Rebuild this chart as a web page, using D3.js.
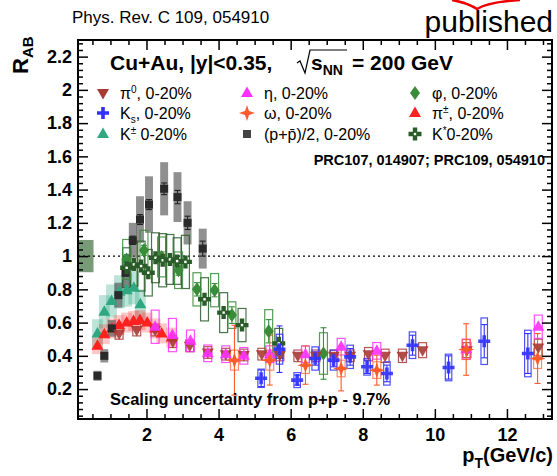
<!DOCTYPE html>
<html lang='en'>
<head>
<meta charset='UTF-8'/>
<title>RAB Cu+Au</title>
<script src='https://cdn.jsdelivr.net/npm/d3@7'></script>
<style>
  body {margin: 0; background: #fff;}
  svg {display: block; font-family: 'Liberation Sans', Arial, Helvetica, sans-serif;}
</style>
</head>
<body>
<div class='graph'></div>
<script>
// ---- data ----
// (p+pbar)/2
const protonPt   = [0.64, 0.83, 1.04, 1.22, 1.42, 1.62, 1.82, 2.07, 2.49, 2.86, 3.14, 3.56];
const protonR    = [0.28, 0.40, 0.565, 0.765, 0.90, 1.095, 1.22, 1.31, 1.405, 1.355, 1.20, 1.045];
const protonStat = [0.01, 0.015, 0.015, 0.02, 0.02, 0.025, 0.03, 0.03, 0.035, 0.04, 0.04, 0.045];
const protonSys  = [0.03, 0.04, 0.05, 0.075, 0.09, 0.105, 0.14, 0.17, 0.16, 0.15, 0.13, 0.12];
// K+-
const kchPt   = [0.64, 0.83, 1.03, 1.25, 1.45, 1.65, 1.83];
const kchR    = [0.535, 0.665, 0.73, 0.785, 0.795, 0.81, 0.71];
const kchSys  = [0.085, 0.1, 0.1, 0.1, 0.1, 0.1, 0.09];
// pi+-
const pichPt  = [0.64, 0.83, 1.04, 1.24, 1.45, 1.64, 1.82, 2.02, 2.24, 2.42, 2.7];
const pichR   = [0.46, 0.53, 0.565, 0.585, 0.60, 0.61, 0.615, 0.60, 0.565, 0.535, 0.51];
const pichSys = [0.05, 0.06, 0.06, 0.06, 0.06, 0.06, 0.06, 0.06, 0.06, 0.06, 0.06];
// pi0
const pi0Pt   = [1.24, 1.73, 2.24, 2.73, 3.2, 3.7, 4.2, 4.7, 5.2, 5.7, 6.2, 6.7, 7.2, 7.65, 8.16, 8.62, 9.1, 9.66, 10.89, 12.87];
const pi0R    = [0.535, 0.555, 0.555, 0.485, 0.46, 0.42, 0.41, 0.405, 0.41, 0.405, 0.40, 0.40, 0.40, 0.40, 0.41, 0.40, 0.40, 0.434, 0.434, 0.45];
const pi0Sys  = [0.035, 0.035, 0.035, 0.035, 0.035, 0.035, 0.035, 0.035, 0.035, 0.035, 0.035, 0.035, 0.035, 0.035, 0.04, 0.04, 0.04, 0.045, 0.045, 0.05];
// eta
const etaPt   = [2.24, 2.72, 3.22, 3.7, 4.2, 4.7, 5.42, 6.41, 7.4, 8.39, 10.87, 12.87];
const etaR    = [0.575, 0.525, 0.49, 0.415, 0.41, 0.40, 0.41, 0.41, 0.455, 0.43, 0.44, 0.575];
const etaSys  = [0.1, 0.1, 0.065, 0.05, 0.05, 0.05, 0.05, 0.05, 0.05, 0.05, 0.06, 0.07];
// omega
const omegaPt   = [4.44, 5.42, 6.41, 7.4, 8.39, 10.87, 12.85];
const omegaR    = [0.374, 0.374, 0.344, 0.324, 0.314, 0.438, 0.384];
const omegaStat = [0.21, 0.15, 0.115, 0.135, 0.09, 0.155, 0.15];
const omegaSys  = [0.06, 0.06, 0.05, 0.05, 0.05, 0.06, 0.06];
// K_s
const ksPt   = [5.18, 5.69, 6.18, 6.68, 7.19, 7.65, 8.12, 8.67, 9.38, 10.38, 11.37, 12.58];
const ksR    = [0.265, 0.44, 0.254, 0.384, 0.374, 0.394, 0.334, 0.294, 0.464, 0.33, 0.488, 0.414];
const ksStat = [0.05, 0.14, 0.03, 0.04, 0.04, 0.05, 0.04, 0.05, 0.06, 0.07, 0.1, 0.12];
const ksSys  = [0.055, 0.09, 0.045, 0.07, 0.06, 0.07, 0.05, 0.07, 0.08, 0.08, 0.14, 0.14];
// phi
const phiPt   = [1.45, 1.93, 2.42, 2.89, 3.40, 3.89, 4.37, 5.39, 6.91];
const phiR    = [0.98, 1.035, 0.995, 0.915, 0.80, 0.795, 0.645, 0.548, 0.414];
const phiStat = [0.03, 0.03, 0.03, 0.03, 0.04, 0.04, 0.05, 0.07, 0.155];
const phiSys  = [0.12, 0.12, 0.12, 0.11, 0.1, 0.1, 0.08, 0.13, 0.125];
// K*0
const kstarPt  = [1.45, 1.65, 1.85, 2.05, 2.25, 2.45, 2.65, 2.85, 3.08, 3.61, 4.14, 4.65, 5.67];
const kstarR   = [0.93, 0.95, 0.94, 0.90, 0.99, 0.975, 0.98, 0.97, 0.965, 0.74, 0.66, 0.585, 0.475];
const kstarSys = [0.12, 0.13, 0.15, 0.14, 0.15, 0.16, 0.15, 0.14, 0.16, 0.13, 0.12, 0.1, 0.09];

const xTicks = [2, 4, 6, 8, 10, 12];
const yTicks = [0.2, 0.4, 0.6, 0.8, 1, 1.2, 1.4, 1.6, 1.8, 2, 2.2];
const normUnc = 0.097;

// ---- setup ----
const width = 557, height = 476;
const margin = {top: 40, right: 5, bottom: 57, left: 78};

const svg = d3.select('.graph').append('svg')
  .attr('width', width).attr('height', height);
svg.append('rect').attr('width', width).attr('height', height).attr('fill', '#fff');

const x = d3.scaleLinear().domain([0.1, 13.25]).range([margin.left, width - margin.right]);
const y = d3.scaleLinear().domain([0.02, 2.3]).range([height - margin.bottom, margin.top]);
const x0 = margin.left, x1 = width - margin.right, y0 = height - margin.bottom, y1 = margin.top;

const C = {
  kch: '#2fa882', pich: '#ff2020', proton: '#2a2a2a', pi0: '#a83a34',
  eta: '#ff30ff', omega: '#ff5a2a', ks: '#3030ff', phi: '#3a8c3a', kstar: '#2a5c2a'
};

const plot = svg.append('g');

// normalisation box
plot.append('rect')
  .attr('x', x(0.1)).attr('width', x(0.53) - x(0.1))
  .attr('y', y(1 + normUnc)).attr('height', y(1 - normUnc) - y(1 + normUnc))
  .attr('fill', '#5f8a5f').attr('opacity', 0.85);

// dotted unity line
plot.append('line')
  .attr('x1', x0).attr('x2', x1).attr('y1', y(1)).attr('y2', y(1))
  .attr('stroke', '#000').attr('stroke-width', 1.3).attr('stroke-dasharray', '2,3');

const zip = (pt, r, a, b) => pt.map((p, i) => ({pt: p, r: r[i], a: a ? a[i] : 0, b: b ? b[i] : 0}));

// filled systematic boxes
function fillBoxes(data, w, fill, op) {
  plot.append('g').selectAll('rect').data(data).join('rect')
    .attr('x', d => x(d.pt - w / 2)).attr('width', x(w) - x(0))
    .attr('y', d => y(d.r + d.a)).attr('height', d => y(d.r - d.a) - y(d.r + d.a))
    .attr('fill', fill).attr('opacity', op);
}
// open systematic boxes
function openBoxes(data, w, stroke, op) {
  plot.append('g').selectAll('rect').data(data).join('rect')
    .attr('x', d => x(d.pt - w / 2)).attr('width', x(w) - x(0))
    .attr('y', d => y(d.r + d.a)).attr('height', d => y(d.r - d.a) - y(d.r + d.a))
    .attr('fill', 'none').attr('stroke', stroke).attr('stroke-width', 1.2).attr('opacity', op);
}
// stat error bars (uses .b)
function errBars(data, color, cap) {
  const g = plot.append('g').attr('stroke', color).attr('stroke-width', 1.1);
  g.selectAll('line.v').data(data).join('line').attr('class', 'v')
    .attr('x1', d => x(d.pt)).attr('x2', d => x(d.pt))
    .attr('y1', d => y(d.r + d.b)).attr('y2', d => y(d.r - d.b));
  if (cap) {
    ['t', 'l'].forEach(k => {
      g.selectAll('line.' + k).data(data).join('line').attr('class', k)
        .attr('x1', d => x(d.pt) - cap).attr('x2', d => x(d.pt) + cap)
        .attr('y1', d => y(k === 't' ? d.r + d.b : d.r - d.b))
        .attr('y2', d => y(k === 't' ? d.r + d.b : d.r - d.b));
    });
  }
}

// marker paths
const triUp = 'M0,-6.5L6,4L-6,4Z';
const triDown = 'M0,6.5L6,-4L-6,-4Z';
const square = 'M-4,-4H4V4H-4Z';
const cross = 'M-1.8,-6H1.8V-1.8H6V1.8H1.8V6H-1.8V1.8H-6V-1.8H-1.8Z';
const diamond = 'M0,-7L5,0L0,7L-5,0Z';
const star = 'M0,-8L2,-2L8,0L2,2L0,8L-2,2L-8,0L-2,-2Z';
const openCross = 'M-2.2,-6.5H2.2V-2.2H6.5V2.2H2.2V6.5H-2.2V2.2H-6.5V-2.2H-2.2Z';

function markers(data, path, color, op) {
  plot.append('g').selectAll('path').data(data).join('path')
    .attr('d', path).attr('transform', d => `translate(${x(d.pt)},${y(d.r)})`)
    .attr('fill', color).attr('opacity', op || 1);
}
function kstarMarkers(data, color) {
  const g = plot.append('g').selectAll('g').data(data).join('g')
    .attr('transform', d => `translate(${x(d.pt)},${y(d.r)})`);
  g.append('path').attr('d', openCross).attr('fill', color);
  g.append('rect').attr('x', -1.2).attr('y', -1.2).attr('width', 2.4).attr('height', 2.4).attr('fill', '#fff');
}

const kch = zip(kchPt, kchR, kchSys);
const pich = zip(pichPt, pichR, pichSys);
const proton = zip(protonPt, protonR, protonSys, protonStat);
const pi0 = zip(pi0Pt, pi0R, pi0Sys);
const eta = zip(etaPt, etaR, etaSys);
const omega = zip(omegaPt, omegaR, omegaSys, omegaStat);
const ks = zip(ksPt, ksR, ksSys, ksStat);
const phi = zip(phiPt, phiR, phiSys, phiStat);
const kstar = zip(kstarPt, kstarR, kstarSys);

// boxes
fillBoxes(kch, 0.3, C.kch, 0.32);
fillBoxes(pich, 0.3, C.pich, 0.25);
fillBoxes(proton, 0.22, '#555', 0.65);
openBoxes(kstar, 0.22, C.kstar, 0.85);
openBoxes(phi, 0.22, C.phi, 0.85);
openBoxes(pi0, 0.22, C.pi0, 0.85);
openBoxes(eta, 0.22, C.eta, 0.85);
openBoxes(omega, 0.22, C.omega, 0.7);
openBoxes(ks, 0.18, C.ks, 0.85);

// stat bars
errBars(proton, '#222', 3);
errBars(phi, C.phi, 3);
errBars(omega, C.omega, 3);
errBars(ks, C.ks, 3);

// markers
markers(kch, triUp, C.kch);
markers(pich, triUp, C.pich);
markers(proton, square, C.proton);
markers(phi, diamond, C.phi);
kstarMarkers(kstar, C.kstar);
markers(pi0, triDown, C.pi0, 0.9);
markers(eta, triUp, C.eta, 0.9);
markers(omega, star, C.omega);
markers(ks, cross, C.ks, 0.9);

// ---- axes ----
const tickFmt = d3.format('.1~f');
const axFont = g => g.selectAll('text').attr('font-size', 18).attr('font-weight', 'bold').attr('fill', '#000')
  .attr('font-family', "'Liberation Sans', Arial, sans-serif");

const xMinor = d3.range(0.5, 13.25, 0.5).filter(v => v % 2 !== 0);
const yMinor = d3.range(0.04, 2.3, 0.04).filter(v => Math.abs(v * 5 - Math.round(v * 5)) > 1e-6);

svg.append('g').attr('transform', `translate(0,${y0})`)
  .call(d3.axisBottom(x).tickValues(xTicks).tickSize(-10).tickPadding(9).tickFormat(d3.format('d')))
  .call(g => g.select('.domain').remove()).call(axFont);
svg.append('g').attr('transform', `translate(0,${y0})`)
  .call(d3.axisBottom(x).tickValues(xMinor).tickSize(-5).tickFormat(''))
  .call(g => g.select('.domain').remove());
svg.append('g').attr('transform', `translate(0,${y1})`)
  .call(d3.axisTop(x).tickValues(xTicks).tickSize(-10).tickFormat(''))
  .call(g => g.select('.domain').remove());
svg.append('g').attr('transform', `translate(0,${y1})`)
  .call(d3.axisTop(x).tickValues(xMinor).tickSize(-5).tickFormat(''))
  .call(g => g.select('.domain').remove());

svg.append('g').attr('transform', `translate(${x0},0)`)
  .call(d3.axisLeft(y).tickValues(yTicks).tickSize(-10).tickPadding(6).tickFormat(tickFmt))
  .call(g => g.select('.domain').remove()).call(axFont);
svg.append('g').attr('transform', `translate(${x0},0)`)
  .call(d3.axisLeft(y).tickValues(yMinor).tickSize(-5).tickFormat(''))
  .call(g => g.select('.domain').remove());
svg.append('g').attr('transform', `translate(${x1},0)`)
  .call(d3.axisRight(y).tickValues(yTicks).tickSize(-10).tickFormat(''))
  .call(g => g.select('.domain').remove());
svg.append('g').attr('transform', `translate(${x1},0)`)
  .call(d3.axisRight(y).tickValues(yMinor).tickSize(-5).tickFormat(''))
  .call(g => g.select('.domain').remove());
svg.selectAll('.tick line').attr('stroke', '#000').attr('stroke-width', 1.5);

svg.append('rect').attr('x', x0).attr('y', y1).attr('width', x1 - x0).attr('height', y0 - y1)
  .attr('fill', 'none').attr('stroke', '#000').attr('stroke-width', 2);

// axis titles
const xt = svg.append('text').attr('x', 553).attr('y', 462).attr('text-anchor', 'end')
  .attr('font-size', 20).attr('font-weight', 'bold');
xt.append('tspan').text('p');
xt.append('tspan').attr('dy', 6).attr('font-size', 14).text('T');
xt.append('tspan').attr('dy', -6).text('(GeV/c)');

const yt = svg.append('text').attr('transform', 'translate(28,74) rotate(-90)')
  .attr('font-size', 22).attr('font-weight', 'bold');
yt.append('tspan').text('R');
yt.append('tspan').attr('dy', 5).attr('font-size', 15).text('AB');

// ---- annotations ----
svg.append('text').attr('x', 72).attr('y', 23).attr('font-size', 17).text('Phys. Rev. C 109, 054910');
svg.append('text').attr('x', 553).attr('y', 32).attr('text-anchor', 'end').attr('font-size', 30).text('published');
svg.append('path').attr('d', 'M452,0 Q468,3 477,9 Q488,2 520,0').attr('fill', 'none').attr('stroke', '#e00').attr('stroke-width', 2.5);

const hdr = svg.append('g').attr('font-weight', 'bold').attr('font-size', 21);
hdr.append('text').attr('x', 110).attr('y', 70).text('Cu+Au, |y|<0.35,');
hdr.append('path').attr('d', 'M297,63 L300,61 L305,73 L310,50 L347,50')
  .attr('fill', 'none').attr('stroke', '#000').attr('stroke-width', 1.2);
const sq = hdr.append('text').attr('x', 311).attr('y', 70);
sq.append('tspan').text('s');
sq.append('tspan').attr('dy', 5).attr('font-size', 14).text('NN');
hdr.append('text').attr('x', 352).attr('y', 70).text('= 200 GeV');

const legendItems = [
  {col: 0, row: 0, mk: 'pi0', label: ['π', '0', ', 0-20%', 'sup']},
  {col: 0, row: 1, mk: 'ks', label: ['K', 's', ', 0-20%', 'sub']},
  {col: 0, row: 2, mk: 'kch', label: ['K', '±', ' 0-20%', 'sup']},
  {col: 1, row: 0, mk: 'eta', label: ['η, 0-20%']},
  {col: 1, row: 1, mk: 'omega', label: ['ω, 0-20%']},
  {col: 1, row: 2, mk: 'proton', label: ['(p+p\u0304)/2, 0-20%']},
  {col: 2, row: 0, mk: 'phi', label: ['φ, 0-20%']},
  {col: 2, row: 1, mk: 'pich', label: ['π', '±', ', 0-20%', 'sup']},
  {col: 2, row: 2, mk: 'kstar', label: ['K', '*', '0-20%', 'sup']}
];
const colX = [103, 247, 415], rowY = [93, 113, 134];
const mkPath = {pi0: triDown, ks: cross, kch: triUp, eta: triUp, omega: star, proton: square, phi: diamond, pich: triUp};
const leg = svg.append('g');
legendItems.forEach(it => {
  const cx = colX[it.col], cy = rowY[it.row];
  if (it.mk === 'kstar') {
    leg.append('path').attr('d', openCross).attr('transform', `translate(${cx},${cy})`).attr('fill', C.kstar);
    leg.append('rect').attr('x', cx - 1.2).attr('y', cy - 1.2).attr('width', 2.4).attr('height', 2.4).attr('fill', '#fff');
  } else {
    leg.append('path').attr('d', mkPath[it.mk]).attr('transform', `translate(${cx},${cy})`)
      .attr('fill', it.mk === 'proton' ? '#444' : C[it.mk]);
  }
  const t = leg.append('text').attr('x', cx + 17).attr('y', cy + 6).attr('font-size', 16);
  if (it.label.length === 1) {
    t.text(it.label[0]);
  } else {
    const sh = it.label[3] === 'sup' ? -6 : 4;
    t.append('tspan').text(it.label[0]);
    t.append('tspan').attr('dy', sh).attr('font-size', 10).text(it.label[1]);
    t.append('tspan').attr('dy', -sh).text(it.label[2]);
  }
});

svg.append('text').attr('x', 545).attr('y', 165).attr('text-anchor', 'end')
  .attr('font-size', 14.5).attr('font-weight', 'bold').text('PRC107, 014907; PRC109, 054910');
svg.append('text').attr('x', 110).attr('y', 405)
  .attr('font-size', 16.5).attr('font-weight', 'bold').text('Scaling uncertainty from p+p - 9.7%');
</script>
</body>
</html>
